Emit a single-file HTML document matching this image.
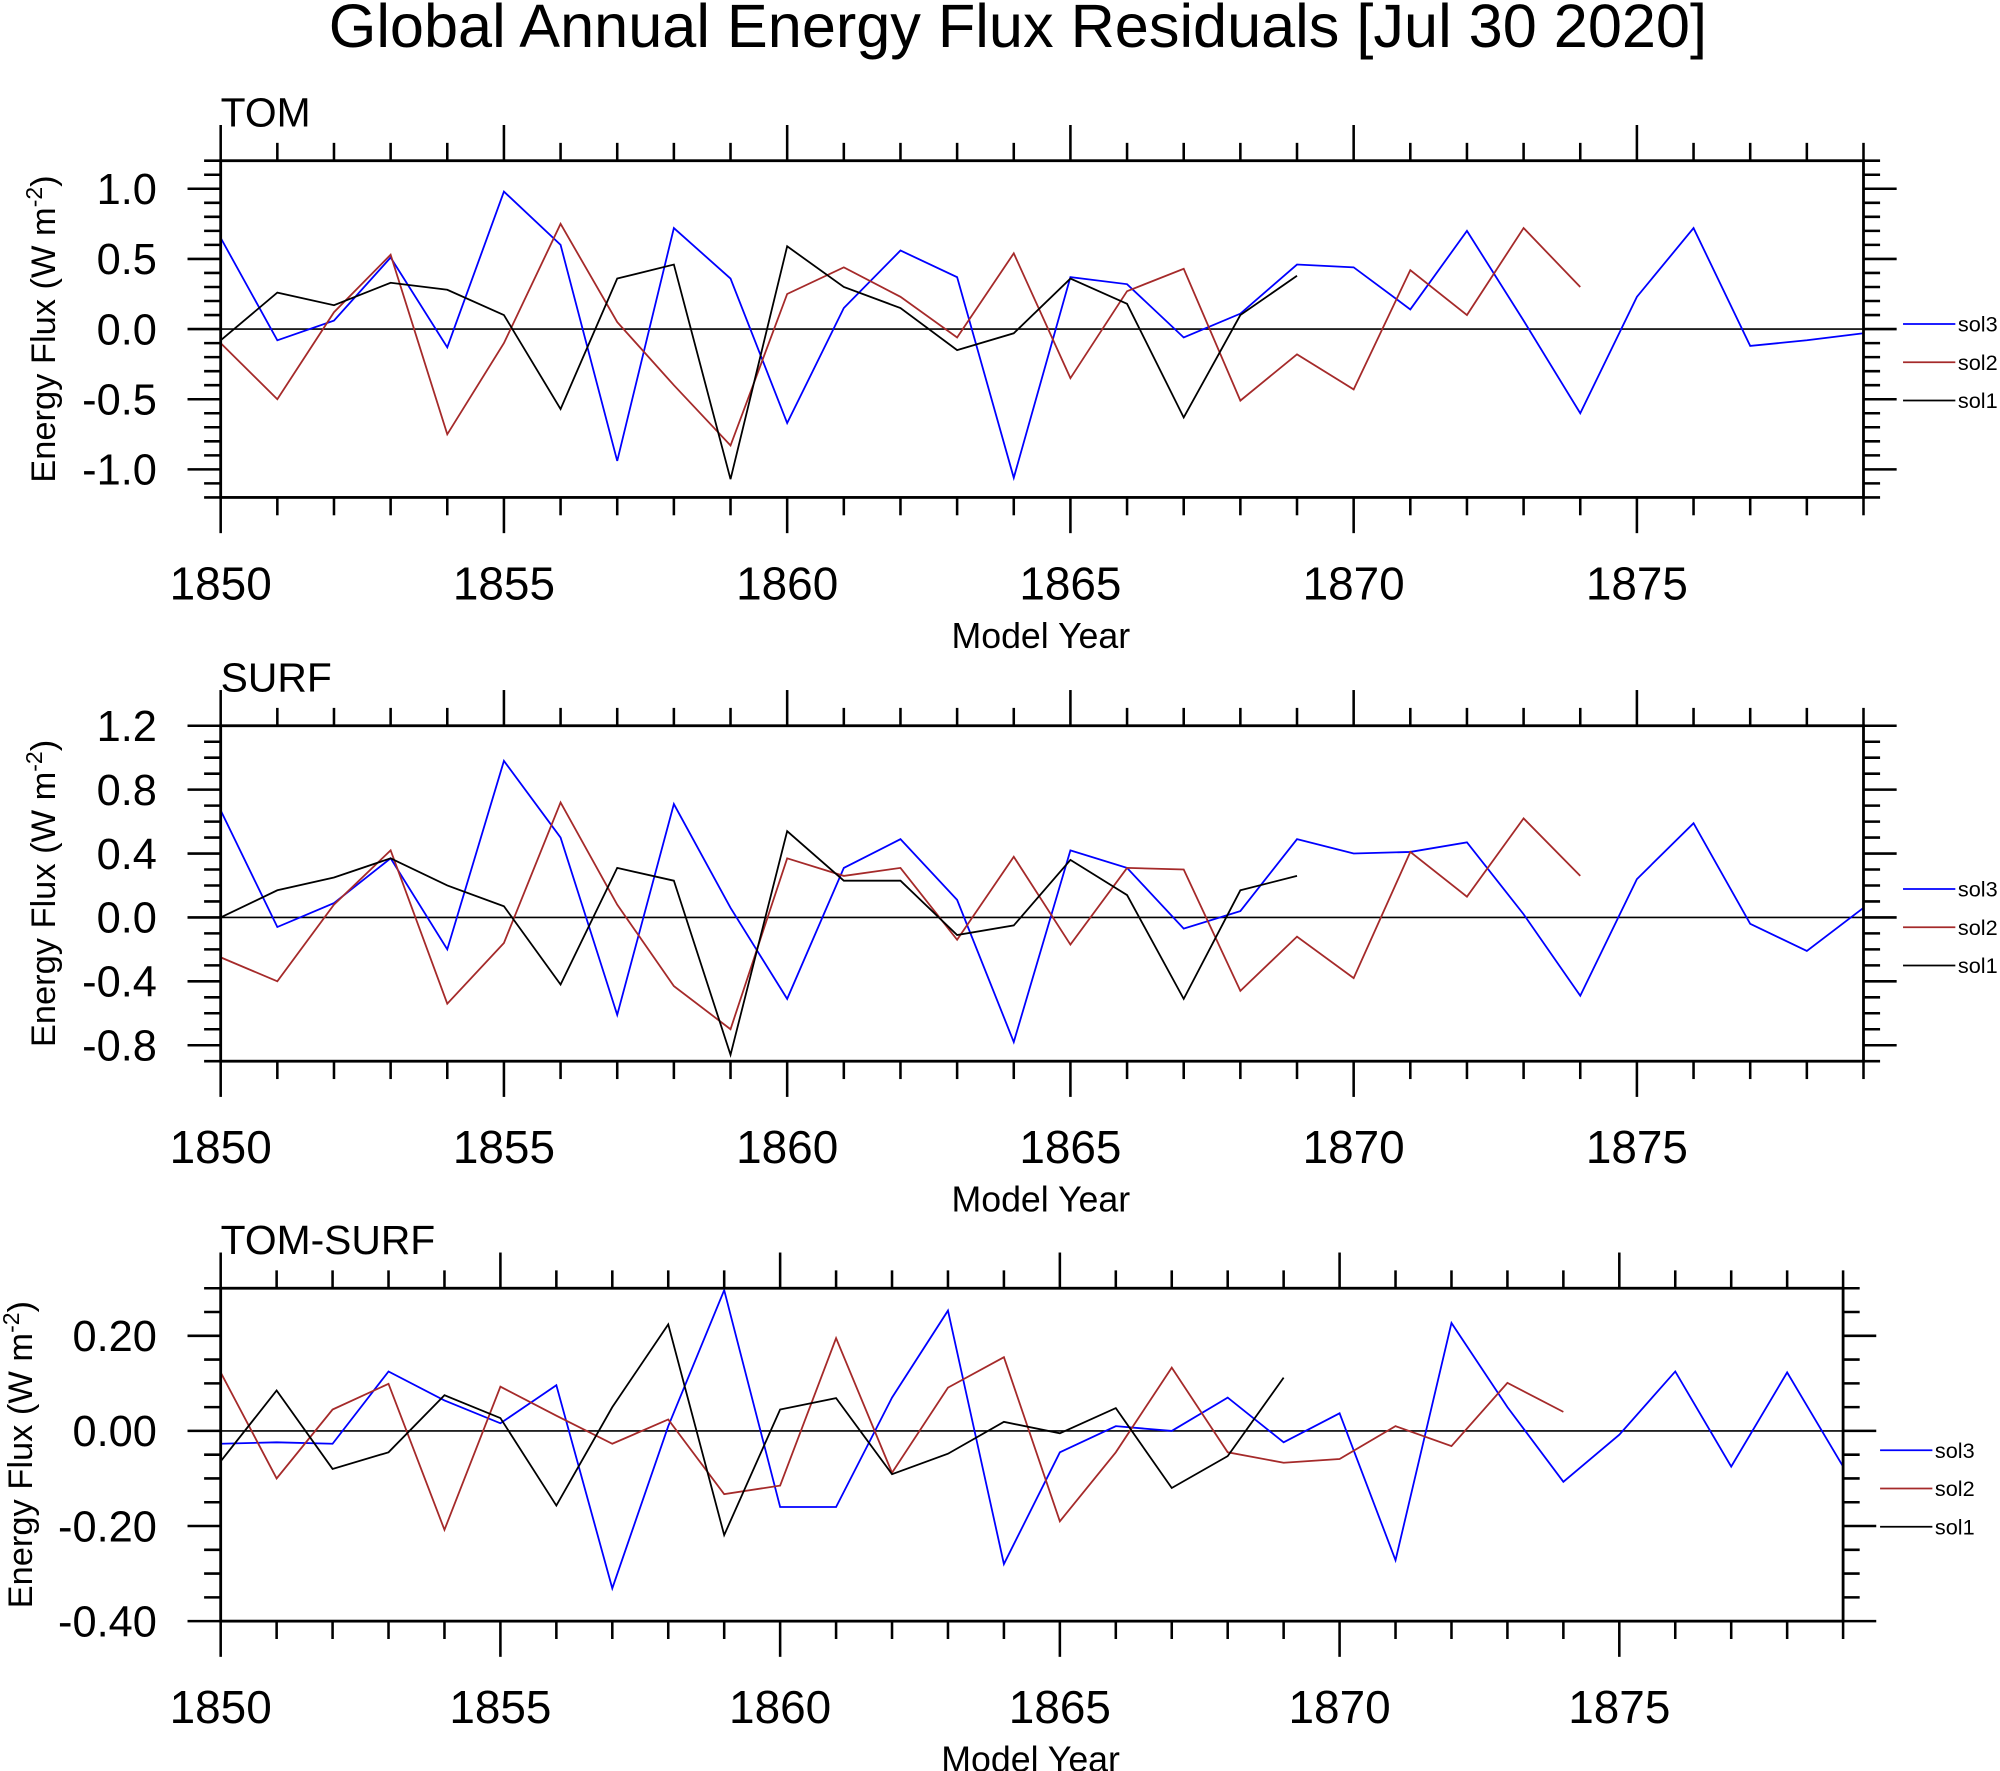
<!DOCTYPE html>
<html><head><meta charset="utf-8"><style>
html,body{margin:0;padding:0;background:#fff;}
svg{display:block;font-family:"Liberation Sans",Arial,sans-serif;}
</style></head><body>
<svg id="chart" width="2000" height="1771" viewBox="0 0 1568 1388.5" xmlns="http://www.w3.org/2000/svg">
<text x="798" y="37" font-size="48" text-anchor="middle">Global Annual Energy Flux Residuals [Jul 30 2020]</text>
</svg>
<script>
const years = Array.from({length:30},(_,i)=>1850+i);
const tomSol3 = [0.65,-0.08,0.06,0.51,-0.13,0.98,0.60,-0.94,0.72,0.36,-0.67,0.15,0.56,0.37,-1.06,0.37,0.32,-0.06,0.11,0.46,0.44,0.14,0.70,0.06,-0.60,0.23,0.72,-0.12,-0.08,-0.03];
const tomSol2 = [-0.10,-0.50,0.12,0.53,-0.75,-0.10,0.75,0.05,-0.40,-0.83,0.25,0.44,0.23,-0.06,0.54,-0.35,0.27,0.43,-0.51,-0.18,-0.43,0.42,0.10,0.72,0.30];
const tomSol1 = [-0.08,0.26,0.17,0.33,0.28,0.10,-0.57,0.36,0.46,-1.07,0.59,0.30,0.15,-0.15,-0.03,0.36,0.18,-0.63,0.10,0.38];
const surfSol3 = [0.67,-0.06,0.09,0.37,-0.20,0.98,0.50,-0.61,0.71,0.06,-0.51,0.31,0.49,0.11,-0.78,0.42,0.31,-0.07,0.04,0.49,0.40,0.41,0.47,0.02,-0.49,0.24,0.59,-0.04,-0.21,0.06];
const surfSol2 = [-0.25,-0.40,0.08,0.42,-0.54,-0.16,0.72,0.08,-0.43,-0.70,0.37,0.26,0.31,-0.14,0.38,-0.17,0.31,0.30,-0.46,-0.12,-0.38,0.41,0.13,0.62,0.26];
const surfSol1 = [0.00,0.17,0.25,0.37,0.20,0.07,-0.42,0.31,0.23,-0.86,0.54,0.23,0.23,-0.11,-0.05,0.36,0.14,-0.51,0.17,0.26];
const diffSol3 = [-0.027,-0.024,-0.027,0.125,0.064,0.016,0.096,-0.331,0.01,0.296,-0.16,-0.16,0.07,0.253,-0.28,-0.045,0.01,0.0,0.07,-0.024,0.037,-0.272,0.227,0.05,-0.107,-0.008,0.125,-0.075,0.123,-0.075];
const diffSol2 = [0.123,-0.10,0.045,0.099,-0.208,0.093,0.032,-0.027,0.024,-0.133,-0.115,0.195,-0.088,0.091,0.155,-0.19,-0.045,0.133,-0.045,-0.067,-0.059,0.01,-0.032,0.101,0.04];
const diffSol1 = [-0.064,0.085,-0.08,-0.045,0.075,0.027,-0.157,0.05,0.224,-0.219,0.045,0.069,-0.091,-0.048,0.019,-0.005,0.048,-0.12,-0.053,0.112];
const xTickLabels = ["1850","1855","1860","1865","1870","1875"];
const tomYTicks = ["1.0","0.5","0.0","-0.5","-1.0"];
const surfYTicks = ["1.2","0.8","0.4","0.0","-0.4","-0.8"];
const diffYTicks = ["0.20","0.00","-0.20","-0.40"];
const seriesNames = ["sol3","sol2","sol1"];
const colors = ["#0000ff","#a52a2a","#000000"];

const svg = document.getElementById('chart');
const NS = "http://www.w3.org/2000/svg";
function mk(tag, attrs, parent){const e=document.createElementNS(NS,tag);for(const k in attrs)e.setAttribute(k,attrs[k]);(parent||svg).appendChild(e);return e;}

function panel(cfg){
  const g = mk('g',{});
  
  
  const X = y => cfg.x0 + (y-1850)*(cfg.x1-cfg.x0)/29;
  const yv = v => cfg.yb - (v-cfg.vmin)*(cfg.yb-cfg.yt)/(cfg.vmax-cfg.vmin);
  for(let yr=1850; yr<=1879; yr++){
    const major = (yr%5===0), L = major?28:14, x=X(yr);
    mk('line',{x1:x,x2:x,y1:cfg.yt,y2:cfg.yt-L,stroke:'#000','stroke-width':2},g);
    mk('line',{x1:x,x2:x,y1:cfg.yb,y2:cfg.yb+L,stroke:'#000','stroke-width':2},g);
  }
  xTickLabels.forEach((t)=>{
    const tx = mk('text',{x:X(+t),y:cfg.yb+80,'font-size':36,'text-anchor':'middle'},g);
    tx.textContent=t;
    
    
  });
  const nMinor = Math.round((cfg.vmax-cfg.vmin)/cfg.minor);
  for(let i=0;i<=nMinor;i++){
    const v = cfg.vmin + i*cfg.minor;
    const isMajor = cfg.yTicks.some(t=>Math.abs(+t-v)<1e-6);
    const L = isMajor?26:13, y=yv(v);
    mk('line',{x1:cfg.x0,x2:cfg.x0-L,y1:y,y2:y,stroke:'#000','stroke-width':2},g);
    mk('line',{x1:cfg.x1,x2:cfg.x1+L,y1:y,y2:y,stroke:'#000','stroke-width':2},g);
  }
  cfg.yTicks.forEach(t=>{
    const tx = mk('text',{x:cfg.x0-50,y:yv(+t)+12,'font-size':34,'text-anchor':'end'},g);
    tx.textContent=t;
    
    
  });
  mk('line',{x1:cfg.x0,x2:cfg.x1,y1:yv(0),y2:yv(0),stroke:'#000','stroke-width':1.3},g);
  cfg.series.forEach((arr,si)=>{
    const pts = arr.map((v,i)=>X(years[i])+','+yv(v)).join(' ');
    const pl = mk('polyline',{points:pts,fill:'none',stroke:colors[si],'stroke-width':1.4},g);
    
    
  });
  mk('rect',{x:cfg.x0,y:cfg.yt,width:cfg.x1-cfg.x0,height:cfg.yb-cfg.yt,fill:'none',stroke:'#000','stroke-width':2.2},g);
  const lb = mk('text',{x:cfg.x0,y:cfg.yt-27,'font-size':32},g);
  lb.textContent = cfg.label;
  
  
  const xt = mk('text',{x:cfg.xtx,y:cfg.yb+118,'font-size':28,'text-anchor':'middle'},g);
  xt.textContent='Model Year';
  
  
  const cy=(cfg.yt+cfg.yb)/2;
  const yt = mk('text',{x:cfg.ytx,y:cy,'font-size':27,'text-anchor':'middle',transform:`rotate(-90 ${cfg.ytx} ${cy})`},g);
  yt.innerHTML='Energy Flux (W m<tspan dy="-10" font-size="18">-2</tspan><tspan dy="10">)</tspan>';
  
  
  seriesNames.forEach((n,i)=>{
    const ly = cfg.legY + i*30;
    const lg = mk('g',{},g);
    
    
    mk('line',{x1:cfg.legX,x2:cfg.legX+41,y1:ly,y2:ly,stroke:colors[i],'stroke-width':1.4},lg);
    const t = mk('text',{x:cfg.legX+43,y:ly+6,'font-size':17},lg);
    t.textContent=n;
  });
}

panel({name:'tom',label:'TOM',x0:173,x1:1461,yt:126,yb:390,vmin:-1.2,vmax:1.2,minor:0.1,yTicks:tomYTicks,series:[tomSol3,tomSol2,tomSol1],xtx:816,ytx:43,legX:1492,legY:254});
panel({name:'surf',label:'SURF',x0:173,x1:1461,yt:569,yb:832,vmin:-0.9,vmax:1.2,minor:0.1,yTicks:surfYTicks,series:[surfSol3,surfSol2,surfSol1],xtx:816,ytx:43,legX:1492,legY:697});
panel({name:'tom-surf',label:'TOM-SURF',x0:173,x1:1445,yt:1010,yb:1271,vmin:-0.4,vmax:0.3,minor:0.05,yTicks:diffYTicks,series:[diffSol3,diffSol2,diffSol1],xtx:808,ytx:25,legX:1474,legY:1137});
</script>
</body></html>
